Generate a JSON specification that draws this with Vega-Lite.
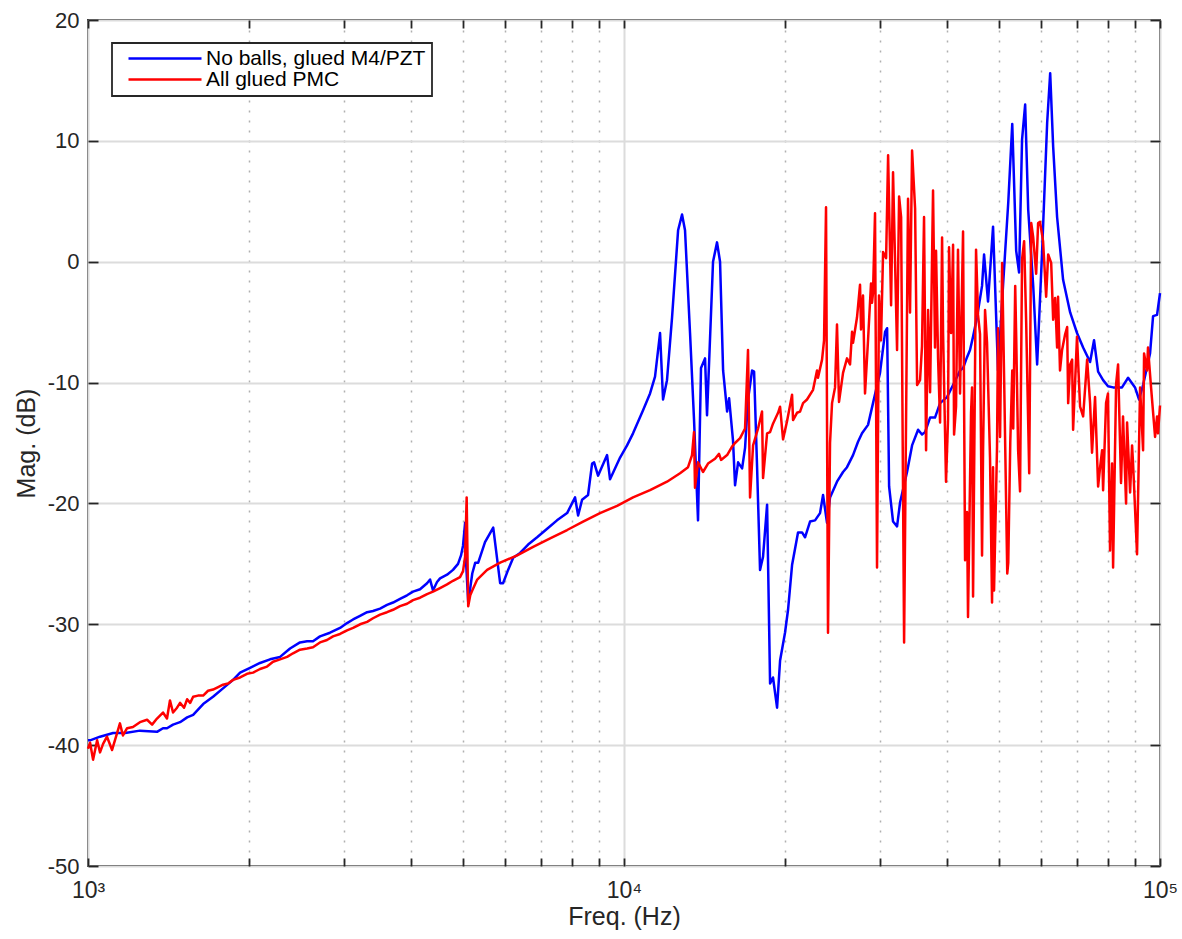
{
  "$schema": "https://vega.github.io/schema/vega-lite/v6.json",
  "width": 1072,
  "height": 846,
  "autosize": "none",
  "padding": {"left": 88, "top": 20, "right": 22, "bottom": 73},
  "background": "white",
  "config": {
    "view": {"stroke": "#262626", "strokeWidth": 1.8},
    "font": "Liberation Sans",
    "legend": {"strokeWidth": 1.8},
    "axis": {"labelFont": "Liberation Sans", "titleFont": "Liberation Sans", "labelColor": "#262626", "titleColor": "#262626", "titleFontWeight": "normal", "tickColor": "#262626", "tickWidth": 1.8, "domain": false}
  },
  "datasets": {
    "blue": [
      {"freq":1000,"mag":-39.6},{"freq":1009,"mag":-39.6},{"freq":1053,"mag":-39.3},{"freq":1114,"mag":-39.0},{"freq":1173,"mag":-39.0},{"freq":1250,"mag":-38.8},{"freq":1345,"mag":-38.9},{"freq":1380,"mag":-38.6},{"freq":1404,"mag":-38.6},{"freq":1441,"mag":-38.3},{"freq":1485,"mag":-38.1},{"freq":1531,"mag":-37.7},{"freq":1571,"mag":-37.5},{"freq":1640,"mag":-36.6},{"freq":1711,"mag":-36.0},{"freq":1786,"mag":-35.3},{"freq":1865,"mag":-34.6},{"freq":1922,"mag":-34.0},{"freq":2006,"mag":-33.6},{"freq":2094,"mag":-33.2},{"freq":2186,"mag":-32.9},{"freq":2282,"mag":-32.7},{"freq":2382,"mag":-32.0},{"freq":2486,"mag":-31.5},{"freq":2563,"mag":-31.4},{"freq":2629,"mag":-31.4},{"freq":2709,"mag":-31.0},{"freq":2828,"mag":-30.7},{"freq":2953,"mag":-30.3},{"freq":3043,"mag":-29.9},{"freq":3123,"mag":-29.6},{"freq":3218,"mag":-29.3},{"freq":3317,"mag":-29.0},{"freq":3402,"mag":-28.9},{"freq":3507,"mag":-28.7},{"freq":3613,"mag":-28.4},{"freq":3708,"mag":-28.2},{"freq":3821,"mag":-27.9},{"freq":3938,"mag":-27.6},{"freq":4040,"mag":-27.3},{"freq":4164,"mag":-27.1},{"freq":4291,"mag":-26.6},{"freq":4347,"mag":-26.3},{"freq":4402,"mag":-27.2},{"freq":4479,"mag":-26.5},{"freq":4537,"mag":-26.2},{"freq":4676,"mag":-25.9},{"freq":4797,"mag":-25.5},{"freq":4902,"mag":-25.0},{"freq":4965,"mag":-24.3},{"freq":5008,"mag":-23.5},{"freq":5053,"mag":-21.6},{"freq":5076,"mag":-25.0},{"freq":5121,"mag":-28.2},{"freq":5166,"mag":-27.0},{"freq":5211,"mag":-25.8},{"freq":5278,"mag":-24.9},{"freq":5346,"mag":-24.9},{"freq":5504,"mag":-23.2},{"freq":5702,"mag":-22.0},{"freq":5874,"mag":-26.6},{"freq":5948,"mag":-26.6},{"freq":6078,"mag":-25.5},{"freq":6212,"mag":-24.5},{"freq":6400,"mag":-24.1},{"freq":6624,"mag":-23.4},{"freq":6885,"mag":-22.8},{"freq":7188,"mag":-22.1},{"freq":7499,"mag":-21.4},{"freq":7832,"mag":-20.8},{"freq":8104,"mag":-19.5},{"freq":8211,"mag":-21.0},{"freq":8352,"mag":-19.7},{"freq":8569,"mag":-19.3},{"freq":8719,"mag":-16.7},{"freq":8794,"mag":-16.6},{"freq":8945,"mag":-17.7},{"freq":9299,"mag":-16.0},{"freq":9418,"mag":-18.0},{"freq":9833,"mag":-16.2},{"freq":10132,"mag":-15.2},{"freq":10396,"mag":-14.2},{"freq":10853,"mag":-12.3},{"freq":11184,"mag":-10.9},{"freq":11426,"mag":-9.5},{"freq":11675,"mag":-5.9},{"freq":11826,"mag":-11.4},{"freq":12029,"mag":-9.8},{"freq":12293,"mag":-4.6},{"freq":12616,"mag":2.6},{"freq":12832,"mag":3.9},{"freq":12997,"mag":2.6},{"freq":13280,"mag":-5.9},{"freq":13508,"mag":-13.0},{"freq":13744,"mag":-21.4},{"freq":13921,"mag":-8.8},{"freq":14164,"mag":-8.0},{"freq":14286,"mag":-12.7},{"freq":14659,"mag":0.0},{"freq":14913,"mag":1.6},{"freq":15108,"mag":0.0},{"freq":15307,"mag":-9.0},{"freq":15574,"mag":-12.4},{"freq":15707,"mag":-11.3},{"freq":15973,"mag":-14.8},{"freq":16113,"mag":-18.5},{"freq":16325,"mag":-16.6},{"freq":16609,"mag":-17.1},{"freq":16821,"mag":-15.4},{"freq":17036,"mag":-11.4},{"freq":17337,"mag":-9.0},{"freq":17487,"mag":-9.1},{"freq":17713,"mag":-17.0},{"freq":17939,"mag":-25.5},{"freq":18173,"mag":-24.4},{"freq":18491,"mag":-20.1},{"freq":18729,"mag":-34.9},{"freq":18967,"mag":-34.4},{"freq":19301,"mag":-36.9},{"freq":19552,"mag":-33.0},{"freq":19971,"mag":-30.7},{"freq":20233,"mag":-28.8},{"freq":20585,"mag":-25.1},{"freq":21119,"mag":-22.4},{"freq":21488,"mag":-22.4},{"freq":21765,"mag":-22.8},{"freq":22238,"mag":-21.5},{"freq":22721,"mag":-21.4},{"freq":23213,"mag":-20.8},{"freq":23516,"mag":-19.3},{"freq":23920,"mag":-21.6},{"freq":24232,"mag":-19.5},{"freq":24968,"mag":-18.2},{"freq":25625,"mag":-17.4},{"freq":26066,"mag":-17.0},{"freq":26749,"mag":-16.0},{"freq":27329,"mag":-14.9},{"freq":27801,"mag":-14.2},{"freq":28529,"mag":-13.5},{"freq":29146,"mag":-11.7},{"freq":30035,"mag":-9.2},{"freq":30700,"mag":-5.8},{"freq":30966,"mag":-5.5},{"freq":31233,"mag":-18.6},{"freq":31765,"mag":-21.5},{"freq":32318,"mag":-21.9},{"freq":32743,"mag":-19.9},{"freq":33735,"mag":-17.4},{"freq":34471,"mag":-15.2},{"freq":35372,"mag":-13.9},{"freq":35973,"mag":-14.3},{"freq":36448,"mag":-14.1},{"freq":37243,"mag":-12.9},{"freq":38040,"mag":-12.9},{"freq":38878,"mag":-11.7},{"freq":40053,"mag":-11.2},{"freq":41109,"mag":-10.2},{"freq":42358,"mag":-9.0},{"freq":42912,"mag":-8.8},{"freq":43650,"mag":-7.9},{"freq":44214,"mag":-7.3},{"freq":44795,"mag":-6.2},{"freq":45567,"mag":-4.6},{"freq":46558,"mag":-2.0},{"freq":46962,"mag":0.6},{"freq":47770,"mag":-3.3},{"freq":48812,"mag":2.9},{"freq":49863,"mag":-9.0},{"freq":50980,"mag":-1.8},{"freq":52108,"mag":4.9},{"freq":53010,"mag":11.4},{"freq":53912,"mag":0.9},{"freq":54588,"mag":-0.9},{"freq":55289,"mag":10.1},{"freq":56030,"mag":13.0},{"freq":56770,"mag":4.3},{"freq":58004,"mag":-2.0},{"freq":58991,"mag":-8.5},{"freq":60244,"mag":0.7},{"freq":61586,"mag":11.5},{"freq":62392,"mag":15.6},{"freq":63196,"mag":9.5},{"freq":64270,"mag":3.7},{"freq":65951,"mag":-1.5},{"freq":67980,"mag":-4.2},{"freq":70009,"mag":-5.9},{"freq":71877,"mag":-7.1},{"freq":74056,"mag":-8.3},{"freq":75323,"mag":-6.5},{"freq":76653,"mag":-9.1},{"freq":78317,"mag":-9.8},{"freq":79980,"mag":-10.3},{"freq":81751,"mag":-10.4},{"freq":84941,"mag":-10.4},{"freq":87192,"mag":-9.6},{"freq":89824,"mag":-10.4},{"freq":91402,"mag":-11.4},{"freq":92991,"mag":-10.2},{"freq":95812,"mag":-7.6},{"freq":97069,"mag":-4.5},{"freq":98744,"mag":-4.4},{"freq":100000,"mag":-2.6}
    ],
    "red": [
      {"freq":1000,"mag":-40.3},{"freq":1009,"mag":-39.8},{"freq":1022,"mag":-41.2},{"freq":1040,"mag":-39.6},{"freq":1053,"mag":-40.6},{"freq":1067,"mag":-39.9},{"freq":1085,"mag":-39.3},{"freq":1109,"mag":-40.4},{"freq":1133,"mag":-39.0},{"freq":1147,"mag":-38.2},{"freq":1162,"mag":-39.2},{"freq":1183,"mag":-38.6},{"freq":1213,"mag":-38.5},{"freq":1250,"mag":-38.1},{"freq":1289,"mag":-37.9},{"freq":1317,"mag":-38.3},{"freq":1345,"mag":-37.8},{"freq":1380,"mag":-37.3},{"freq":1404,"mag":-37.8},{"freq":1422,"mag":-36.3},{"freq":1441,"mag":-37.3},{"freq":1466,"mag":-36.9},{"freq":1485,"mag":-36.5},{"freq":1511,"mag":-36.9},{"freq":1531,"mag":-36.2},{"freq":1551,"mag":-36.5},{"freq":1571,"mag":-36.0},{"freq":1604,"mag":-35.9},{"freq":1640,"mag":-35.9},{"freq":1675,"mag":-35.5},{"freq":1711,"mag":-35.4},{"freq":1749,"mag":-35.2},{"freq":1786,"mag":-35.0},{"freq":1825,"mag":-34.9},{"freq":1865,"mag":-34.6},{"freq":1922,"mag":-34.4},{"freq":1980,"mag":-34.1},{"freq":2032,"mag":-34.0},{"freq":2094,"mag":-33.7},{"freq":2158,"mag":-33.5},{"freq":2214,"mag":-33.1},{"freq":2282,"mag":-32.9},{"freq":2352,"mag":-32.7},{"freq":2413,"mag":-32.4},{"freq":2486,"mag":-32.1},{"freq":2563,"mag":-32.0},{"freq":2629,"mag":-31.9},{"freq":2709,"mag":-31.5},{"freq":2792,"mag":-31.3},{"freq":2865,"mag":-31.0},{"freq":2953,"mag":-30.8},{"freq":3043,"mag":-30.5},{"freq":3123,"mag":-30.3},{"freq":3218,"mag":-30.0},{"freq":3317,"mag":-29.8},{"freq":3402,"mag":-29.5},{"freq":3507,"mag":-29.2},{"freq":3613,"mag":-29.0},{"freq":3708,"mag":-28.8},{"freq":3821,"mag":-28.5},{"freq":3938,"mag":-28.3},{"freq":4040,"mag":-28.0},{"freq":4164,"mag":-27.8},{"freq":4291,"mag":-27.5},{"freq":4402,"mag":-27.3},{"freq":4537,"mag":-27.0},{"freq":4676,"mag":-26.7},{"freq":4797,"mag":-26.4},{"freq":4944,"mag":-26.1},{"freq":5008,"mag":-25.6},{"freq":5053,"mag":-24.4},{"freq":5087,"mag":-19.5},{"freq":5121,"mag":-28.5},{"freq":5166,"mag":-27.6},{"freq":5211,"mag":-27.2},{"freq":5323,"mag":-26.3},{"freq":5554,"mag":-25.5},{"freq":5874,"mag":-24.9},{"freq":6320,"mag":-24.3},{"freq":6769,"mag":-23.6},{"freq":7281,"mag":-22.9},{"freq":7832,"mag":-22.2},{"freq":8388,"mag":-21.5},{"freq":9021,"mag":-20.8},{"freq":9707,"mag":-20.2},{"freq":10396,"mag":-19.5},{"freq":11184,"mag":-18.9},{"freq":12029,"mag":-18.2},{"freq":12722,"mag":-17.5},{"freq":13167,"mag":-17.0},{"freq":13394,"mag":-16.0},{"freq":13508,"mag":-14.1},{"freq":13567,"mag":-18.7},{"freq":13744,"mag":-16.6},{"freq":14041,"mag":-17.4},{"freq":14347,"mag":-16.7},{"freq":14786,"mag":-16.3},{"freq":15041,"mag":-15.9},{"freq":15174,"mag":-16.4},{"freq":15574,"mag":-16.0},{"freq":15906,"mag":-15.3},{"freq":16113,"mag":-15.0},{"freq":16467,"mag":-14.6},{"freq":16821,"mag":-13.8},{"freq":17036,"mag":-7.3},{"freq":17186,"mag":-19.5},{"freq":17411,"mag":-15.2},{"freq":17788,"mag":-13.8},{"freq":18094,"mag":-12.4},{"freq":18173,"mag":-17.9},{"freq":18491,"mag":-14.2},{"freq":18729,"mag":-14.1},{"freq":18967,"mag":-13.4},{"freq":19384,"mag":-12.5},{"freq":19552,"mag":-12.0},{"freq":19803,"mag":-14.7},{"freq":20145,"mag":-13.2},{"freq":20585,"mag":-11.0},{"freq":20673,"mag":-13.1},{"freq":21027,"mag":-12.5},{"freq":21304,"mag":-12.4},{"freq":21581,"mag":-11.7},{"freq":21950,"mag":-11.4},{"freq":22528,"mag":-10.6},{"freq":22914,"mag":-9.0},{"freq":23011,"mag":-9.6},{"freq":23415,"mag":-8.1},{"freq":23617,"mag":-6.5},{"freq":23819,"mag":4.5},{"freq":24022,"mag":-30.7},{"freq":24232,"mag":-15.0},{"freq":24442,"mag":-11.7},{"freq":24758,"mag":-10.4},{"freq":24968,"mag":-5.2},{"freq":25186,"mag":-11.6},{"freq":25625,"mag":-9.2},{"freq":26066,"mag":-8.0},{"freq":26408,"mag":-8.5},{"freq":26635,"mag":-5.8},{"freq":26749,"mag":-6.7},{"freq":27211,"mag":-4.6},{"freq":27565,"mag":-1.9},{"freq":27683,"mag":-5.6},{"freq":27920,"mag":-2.8},{"freq":28162,"mag":-10.9},{"freq":28529,"mag":-6.5},{"freq":28896,"mag":-1.8},{"freq":29019,"mag":-3.4},{"freq":29146,"mag":-2.6},{"freq":29399,"mag":4.0},{"freq":29653,"mag":-25.3},{"freq":29906,"mag":-2.8},{"freq":30168,"mag":-6.5},{"freq":30434,"mag":0.8},{"freq":30833,"mag":0.3},{"freq":31099,"mag":8.8},{"freq":31499,"mag":-3.6},{"freq":31765,"mag":7.4},{"freq":32318,"mag":-7.3},{"freq":32602,"mag":5.4},{"freq":32885,"mag":3.7},{"freq":33310,"mag":-31.5},{"freq":33877,"mag":5.2},{"freq":34170,"mag":-4.2},{"freq":34471,"mag":9.2},{"freq":34921,"mag":4.4},{"freq":35222,"mag":-10.2},{"freq":35672,"mag":-9.8},{"freq":35973,"mag":-7.0},{"freq":36289,"mag":3.7},{"freq":36607,"mag":-15.6},{"freq":36925,"mag":-4.0},{"freq":37243,"mag":-10.8},{"freq":37720,"mag":5.9},{"freq":38040,"mag":-7.1},{"freq":38208,"mag":0.9},{"freq":38543,"mag":-8.0},{"freq":38878,"mag":-13.3},{"freq":39213,"mag":2.0},{"freq":39380,"mag":-5.9},{"freq":39883,"mag":-18.2},{"freq":40229,"mag":-13.1},{"freq":40405,"mag":1.2},{"freq":40757,"mag":-5.9},{"freq":41109,"mag":1.4},{"freq":41285,"mag":-14.3},{"freq":41637,"mag":-12.0},{"freq":41989,"mag":1.0},{"freq":42358,"mag":-10.9},{"freq":42912,"mag":2.5},{"freq":43281,"mag":-24.7},{"freq":43650,"mag":-20.7},{"freq":43835,"mag":-29.4},{"freq":44408,"mag":-12.5},{"freq":44601,"mag":-10.4},{"freq":44795,"mag":-27.7},{"freq":45374,"mag":1.0},{"freq":45761,"mag":-4.4},{"freq":46154,"mag":-6.0},{"freq":46558,"mag":-24.3},{"freq":46760,"mag":-15.8},{"freq":47164,"mag":-4.0},{"freq":47568,"mag":-6.7},{"freq":48181,"mag":-16.2},{"freq":48601,"mag":-28.2},{"freq":48812,"mag":-17.0},{"freq":49022,"mag":-27.2},{"freq":49653,"mag":-15.3},{"freq":49863,"mag":-5.5},{"freq":50304,"mag":-14.5},{"freq":50755,"mag":-0.1},{"freq":51206,"mag":-10.0},{"freq":51882,"mag":-25.8},{"freq":52108,"mag":-24.9},{"freq":52559,"mag":-15.0},{"freq":53010,"mag":-9.0},{"freq":53235,"mag":-13.8},{"freq":53686,"mag":-2.0},{"freq":53912,"mag":-6.1},{"freq":54363,"mag":-15.6},{"freq":54814,"mag":-19.0},{"freq":55289,"mag":0.2},{"freq":55783,"mag":1.7},{"freq":56276,"mag":-5.0},{"freq":57017,"mag":-17.5},{"freq":57511,"mag":3.2},{"freq":58004,"mag":2.0},{"freq":58744,"mag":-1.0},{"freq":59238,"mag":3.2},{"freq":59731,"mag":3.3},{"freq":60513,"mag":1.7},{"freq":61318,"mag":-2.9},{"freq":61855,"mag":0.6},{"freq":62660,"mag":-0.1},{"freq":63196,"mag":-4.8},{"freq":63733,"mag":-3.0},{"freq":64270,"mag":-7.1},{"freq":64538,"mag":-2.9},{"freq":65081,"mag":-9.0},{"freq":65661,"mag":-7.3},{"freq":66530,"mag":-6.0},{"freq":67110,"mag":-5.4},{"freq":67400,"mag":-11.7},{"freq":67980,"mag":-8.5},{"freq":68559,"mag":-8.1},{"freq":68849,"mag":-13.9},{"freq":70009,"mag":-6.2},{"freq":70943,"mag":-12.0},{"freq":71877,"mag":-12.8},{"freq":73122,"mag":-8.1},{"freq":74056,"mag":-11.7},{"freq":74679,"mag":-15.8},{"freq":75655,"mag":-11.2},{"freq":76653,"mag":-18.6},{"freq":77318,"mag":-17.0},{"freq":77984,"mag":-15.6},{"freq":78317,"mag":-18.9},{"freq":79315,"mag":-11.7},{"freq":79980,"mag":-10.9},{"freq":80687,"mag":-23.9},{"freq":81396,"mag":-16.7},{"freq":81751,"mag":-25.3},{"freq":82814,"mag":-10.1},{"freq":83523,"mag":-8.5},{"freq":84586,"mag":-18.3},{"freq":85312,"mag":-12.8},{"freq":86440,"mag":-20.0},{"freq":86816,"mag":-13.3},{"freq":87944,"mag":-19.1},{"freq":88696,"mag":-15.2},{"freq":89072,"mag":-16.7},{"freq":90608,"mag":-24.2},{"freq":91799,"mag":-10.4},{"freq":92991,"mag":-15.6},{"freq":93388,"mag":-7.6},{"freq":94580,"mag":-9.0},{"freq":94976,"mag":-7.1},{"freq":96231,"mag":-10.4},{"freq":97906,"mag":-14.5},{"freq":98744,"mag":-12.8},{"freq":99162,"mag":-14.2},{"freq":100000,"mag":-11.9}
    ]
  },
  "resolve": {"axis": {"x": "independent", "y": "independent"}},
  "layer": [
    {
      "data": {"name": "blue"},
      "mark": {"type": "line", "strokeWidth": 2.5, "strokeJoin": "round"},
      "encoding": {
        "x": {"field": "freq", "type": "quantitative",
          "scale": {"type": "log", "domain": [1000, 100000], "nice": false},
          "axis": {"orient": "bottom",
            "values": [1000,2000,3000,4000,5000,6000,7000,8000,9000,10000,20000,30000,40000,50000,60000,70000,80000,90000,100000],
            "labelExpr": "datum.value == 1000 ? '10³' : datum.value == 10000 ? '10⁴' : datum.value == 100000 ? '10⁵' : ''",
            "labelOverlap": false, "labelFlush": false, "labelFontSize": 23, "labelPadding": 13,
            "ticks": false,
            "grid": true,
            "gridColor": {"condition": {"test": "indexof([1000,10000,100000], datum.value) >= 0", "value": "#dcdcdc"}, "value": "#b0b0b0"},
            "gridDash": {"condition": {"test": "indexof([1000,10000,100000], datum.value) >= 0", "value": []}, "value": [2, 8]},
            "gridWidth": {"condition": {"test": "indexof([1000,10000,100000], datum.value) >= 0", "value": 2}, "value": 1.5},
            "title": "Freq. (Hz)", "titleFontSize": 25, "titlePadding": 2}},
        "y": {"field": "mag", "type": "quantitative",
          "scale": {"domain": [-50, 20], "nice": false},
          "axis": {"orient": "left", "values": [-50,-40,-30,-20,-10,0,10,20],
            "labelExpr": "'' + datum.value", "labelFontSize": 22, "labelPadding": 9,
            "ticks": false, "grid": true, "gridColor": "#dcdcdc", "gridWidth": 2,
            "title": "Mag. (dB)", "titleFontSize": 25, "titlePadding": 8}},
        "color": {"datum": "No balls, glued M4/PZT", "type": "nominal",
          "scale": {"domain": ["No balls, glued M4/PZT", "All glued PMC"], "range": ["#0000ff", "#ff0000"]},
          "legend": {"orient": "none", "legendX": 24, "legendY": 23, "title": null,
            "strokeColor": "#262626", "fillColor": "#ffffff", "padding": 6,
            "symbolType": "stroke", "symbolSize": 5329, "symbolStrokeWidth": 2.5,
            "symbolOffset": 9, "clipHeight": 19, "rowPadding": -1,
            "labelFont": "Liberation Sans", "labelFontSize": 21, "labelColor": "#000000",
            "labelOffset": 3, "labelLimit": 500}}
      }
    },
    {
      "data": {"name": "red"},
      "mark": {"type": "line", "strokeWidth": 2.5, "strokeJoin": "round"},
      "encoding": {
        "x": {"field": "freq", "type": "quantitative",
          "axis": {"orient": "bottom", "offset": -8, "tickSize": 8, "labels": false, "grid": false, "title": null,
            "values": [1000,2000,3000,4000,5000,6000,7000,8000,9000,10000,20000,30000,40000,50000,60000,70000,80000,90000,100000]}},
        "y": {"field": "mag", "type": "quantitative",
          "axis": {"orient": "left", "offset": -10, "tickSize": 10, "labels": false, "grid": false, "title": null,
            "values": [-50,-40,-30,-20,-10,0,10,20]}},
        "color": {"datum": "All glued PMC", "type": "nominal"}
      }
    },
    {
      "data": {"name": "blue"},
      "mark": {"type": "line", "strokeOpacity": 0},
      "encoding": {
        "x": {"field": "freq", "type": "quantitative",
          "axis": {"orient": "top", "offset": -8, "tickSize": 8, "labels": false, "grid": false, "title": null,
            "values": [1000,2000,3000,4000,5000,6000,7000,8000,9000,10000,20000,30000,40000,50000,60000,70000,80000,90000,100000]}},
        "y": {"field": "mag", "type": "quantitative",
          "axis": {"orient": "right", "offset": -10, "tickSize": 10, "labels": false, "grid": false, "title": null,
            "values": [-50,-40,-30,-20,-10,0,10,20]}}
      }
    }
  ]
}
